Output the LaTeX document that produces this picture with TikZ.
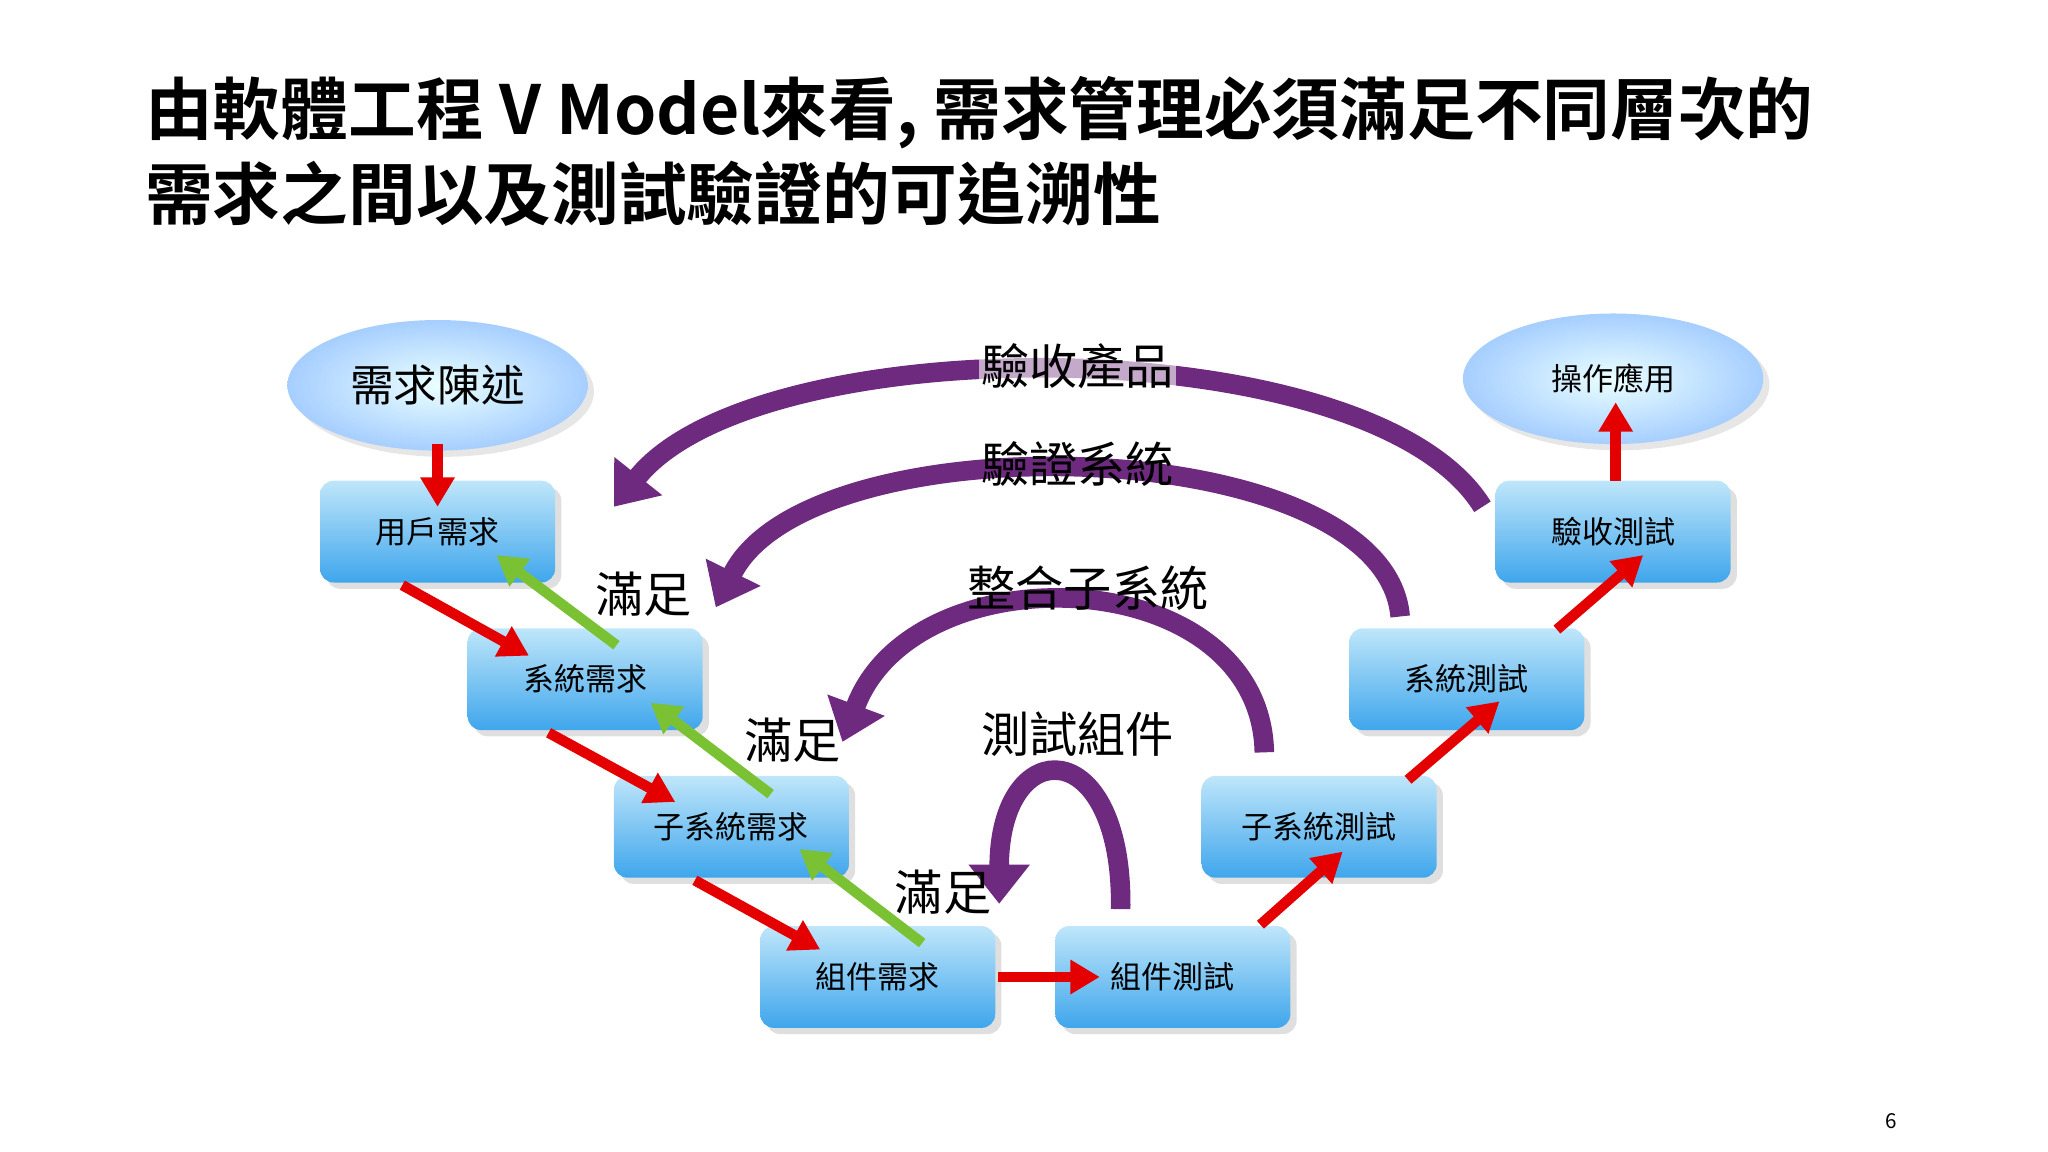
\documentclass[tikz,border=0pt]{standalone}
\usepackage{fontspec}
\setmainfont{Noto Sans CJK TC}
\newfontfamily\tb[BoldFont={* Bold}]{Noto Sans CJK TC}
\usetikzlibrary{shapes.geometric,arrows.meta,shadows}
\definecolor{pu}{HTML}{6E2A7E}
\definecolor{btop}{HTML}{BFE6FA}
\definecolor{bbot}{HTML}{3FA6EC}
\begin{document}
\begin{tikzpicture}[x=0.02cm,y=-0.02cm,
  box/.style={draw=none,rounded corners=6pt,minimum width=3.6cm,minimum height=1.56cm,top color=btop,bottom color=bbot,drop shadow={opacity=0.25},font=\fontsize{13.5}{15}\selectfont},
  ell/.style={ellipse,draw=none,minimum width=4.6cm,minimum height=2cm,inner color=cyan!8,outer color=cyan!45!blue!35,drop shadow={opacity=0.2}},
  red/.style={line width=0.16cm,draw=red!90!black,-{Triangle[length=0.45cm,width=0.5cm]}},
  grn/.style={line width=0.16cm,draw=green!50!yellow!70!black!80,-{Triangle[length=0.45cm,width=0.5cm]}},
  pur/.style={line width=0.3cm,draw=pu,-{Triangle[length=0.6cm,width=0.9cm]}},
  lbl/.style={font=\fontsize{21}{24}\selectfont},
  sat/.style={font=\fontsize{21}{24}\selectfont}]
\useasboundingbox (0,0) rectangle (1568,882);
\node[anchor=west,align=left,font=\tb\bfseries\fontsize{29.5}{37}\selectfont] (title) at (105,116) {由軟體工程 V Model來看, 需求管理必須滿足不同層次的\\需求之間以及測試驗證的可追溯性};
\node[ell,font=\fontsize{19}{22}\selectfont] (e1) at (335,295) {需求陳述};
\node[ell,font=\fontsize{13.5}{15}\selectfont] (e2) at (1235,290) {操作應用};
\node[box] (b1) at (335,407) {用戶需求};
\node[box] (b2) at (448,520) {系統需求};
\node[box] (b3) at (560,633) {子系統需求};
\node[box] (b4) at (672,748) {組件需求};
\node[box] (b5) at (898,748) {組件測試};
\node[box] (b6) at (1010,633) {子系統測試};
\node[box] (b7) at (1123,520) {系統測試};
\node[box] (b8) at (1235,407) {驗收測試};
% purple arcs
\coordinate (p1s) at (1135,388); \coordinate (p1e) at (470,388);
\draw[pur] (p1s) .. controls (1050,250) and (580,250) .. (p1e);
\coordinate (p2s) at (1072,472); \coordinate (p2e) at (548,465);
\draw[pur] (p2s) .. controls (1060,330) and (620,320) .. (p2e);
\coordinate (p3s) at (968,576); \coordinate (p3e) at (645,568);
\draw[pur] (p3s) .. controls (965,430) and (700,420) .. (p3e);
\coordinate (p4s) at (858,696); \coordinate (p4e) at (765,692);
\draw[pur] (p4s) .. controls (860,560) and (765,560) .. (p4e);
\node[lbl,fill=white,fill opacity=0.6,text opacity=1,inner sep=1pt] (l1) at (825,280) {驗收產品};
\node[lbl] (l2) at (825,355) {驗證系統};
\node[lbl] (l3) at (833,450) {整合子系統};
\node[lbl] (l4) at (825,562) {測試組件};
\node[sat] (s1) at (493,455) {滿足};
\node[sat] (s2) at (607,567) {滿足};
\node[sat] (s3) at (722,683) {滿足};
% red arrows
\coordinate (r1a) at (335,340); \coordinate (r1b) at (335,388);
\draw[red] (r1a) -- (r1b);
\draw[red] (308,448) -- (405,502);
\draw[red] (420,561) -- (517,614);
\draw[red] (532,674) -- (628,727);
\coordinate (r5a) at (764,748); \coordinate (r5b) at (842,748);
\draw[red] (r5a) -- (r5b);
\draw[red] (965,708) -- (1028,652);
\draw[red] (1078,597) -- (1148,537);
\draw[red] (1192,482) -- (1258,425);
\coordinate (r9a) at (1237,368); \coordinate (r9b) at (1237,308);
\draw[red] (r9a) -- (r9b);
% green arrows
\draw[grn] (472,494) -- (380,425);
\draw[grn] (590,608) -- (498,538);
\draw[grn] (706,722) -- (612,650);
\node[font=\fontsize{9}{10}\selectfont] (pg) at (1448,858) {6};
\end{tikzpicture}
\end{document}
